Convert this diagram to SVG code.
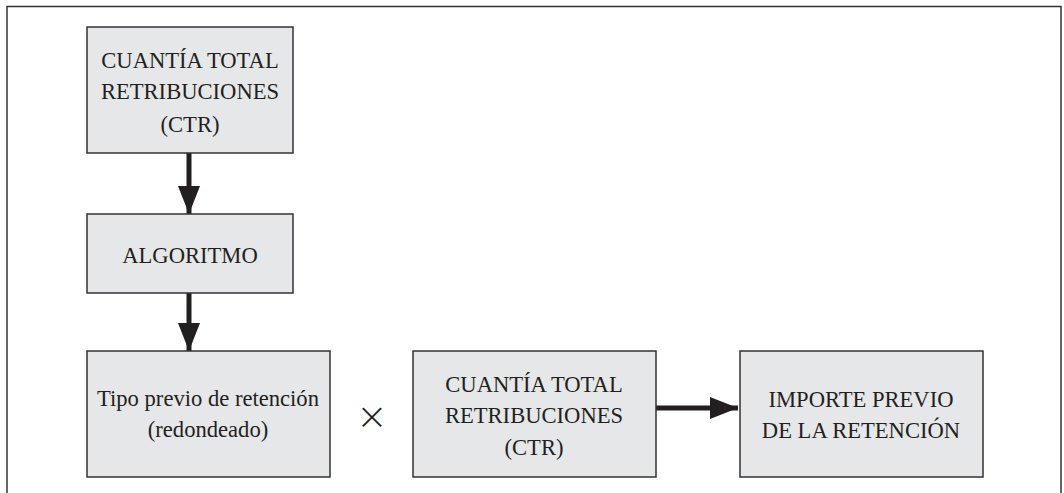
<svg xmlns="http://www.w3.org/2000/svg" width="1064" height="493" viewBox="0 0 1064 493">
<defs>
<style>
.box{fill:#e6e7e8;stroke:#333;stroke-width:1.5}
.t{font-family:"Liberation Serif","Times New Roman",serif;font-size:22.6px;fill:#231f20;text-anchor:middle}
.x{font-family:"DejaVu Sans",sans-serif;font-weight:200;font-size:38px;fill:#231f20;text-anchor:middle}
.c{stroke:#231f20;stroke-width:5;fill:none}
.frame{stroke:#333;stroke-width:1.5;fill:none}
</style>
<marker id="ah" markerUnits="userSpaceOnUse" markerWidth="30" markerHeight="22" refX="28" refY="11" orient="auto">
<path d="M0,0 L28,11 L0,22 Z" fill="#231f20"/>
</marker>
</defs>
<rect width="1064" height="493" fill="#fff"/>
<path class="frame" d="M7,493 V6.5 H1061 V493"/>
<g id="connectors">
<line class="c" x1="189" y1="153" x2="189" y2="214" marker-end="url(#ah)"/>
<line class="c" x1="189" y1="293" x2="189" y2="351" marker-end="url(#ah)"/>
<line class="c" x1="656" y1="408" x2="738" y2="408" marker-end="url(#ah)"/>
</g>
<g id="ctr1">
<rect class="box" x="87" y="27" width="206" height="126"/>
<text class="t" x="190" y="68">CUANTÍA TOTAL</text>
<text class="t" x="190" y="99">RETRIBUCIONES</text>
<text class="t" x="190" y="132">(CTR)</text>
</g>
<g id="algoritmo">
<rect class="box" x="87" y="214" width="206" height="79"/>
<text class="t" x="190" y="263">ALGORITMO</text>
</g>
<g id="tipo">
<rect class="box" x="87" y="351" width="243" height="126"/>
<text class="t" x="208" y="406">Tipo previo de retención</text>
<text class="t" x="208" y="437">(redondeado)</text>
</g>
<g id="times">
<text class="x" x="372" y="429">×</text>
</g>
<g id="ctr2">
<rect class="box" x="413" y="351" width="243" height="126"/>
<text class="t" x="534" y="392">CUANTÍA TOTAL</text>
<text class="t" x="534" y="423">RETRIBUCIONES</text>
<text class="t" x="534" y="455">(CTR)</text>
</g>
<g id="importe">
<rect class="box" x="740" y="351" width="243" height="126"/>
<text class="t" x="861" y="407">IMPORTE PREVIO</text>
<text class="t" x="861" y="438">DE LA RETENCIÓN</text>
</g>
</svg>
